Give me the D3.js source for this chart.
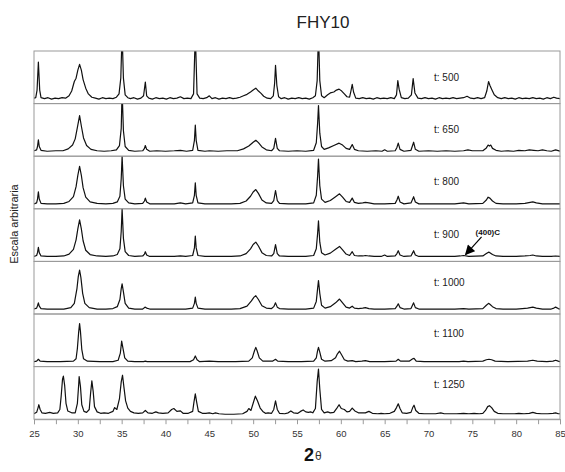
<!DOCTYPE html>
<html>
<head>
<meta charset="utf-8">
<script src="https://cdn.jsdelivr.net/npm/d3@7/dist/d3.min.js"></script>
<style>
  body { margin: 0; background: #fff; }
  svg { display: block; font-family: "Liberation Sans", Arial, sans-serif; }
</style>
</head>
<body>
<svg id="chart" width="565" height="472"></svg>
<script>
// ---- data ----
const panelLabels = ["t: 500", "t: 650", "t: 800", "t: 900", "t: 1000", "t: 1100", "t: 1250"];
const xTicks = [25, 27.5, 30, 32.5, 35, 37.5, 40, 42.5, 45, 47.5, 50, 52.5, 55, 57.5, 60, 62.5, 65, 67.5, 70, 72.5, 75, 77.5, 80, 82.5, 85];

const t500 = [[25,3],[25.2,4],[25.35,20],[25.5,79],[25.65,20],[25.8,4],[26.2,2],[26.6,4],[27.0,1],[27.4,3],[27.8,2],[28.2,4],[28.6,3],[29.0,8],[29.3,18],[29.6,38],[29.8,45],[30.0,62],[30.2,74],[30.4,62],[30.6,42],[30.9,24],[31.2,12],[31.6,5],[32.0,3],[32.4,1],[32.8,4],[33.2,2],[33.6,3],[34.0,2],[34.4,5],[34.7,12],[34.9,45],[35.05,140],[35.2,45],[35.4,10],[35.7,4],[36.0,2],[36.4,4],[36.8,1],[37.2,3],[37.5,8],[37.7,37],[37.85,8],[38.1,3],[38.5,1],[38.9,4],[39.3,2],[39.7,3],[40.1,1],[40.5,4],[40.9,2],[41.3,3],[41.7,6],[42.1,2],[42.5,3],[42.9,2],[43.2,12],[43.4,140],[43.6,12],[43.9,3],[44.3,2],[44.7,4],[45.0,8],[45.3,2],[45.7,4],[46.1,1],[46.5,3],[46.9,2],[47.3,4],[47.7,2],[48.1,3],[48.5,5],[48.9,8],[49.3,11],[49.7,16],[50.0,20],[50.3,24],[50.6,18],[50.9,13],[51.2,7],[51.6,3],[52.0,2],[52.3,8],[52.45,35],[52.55,72],[52.7,30],[52.9,6],[53.2,2],[53.6,4],[54.0,1],[54.4,3],[54.8,2],[55.2,4],[55.6,2],[56.0,3],[56.4,1],[56.8,4],[57.1,8],[57.3,40],[57.45,140],[57.6,40],[57.8,8],[58.1,4],[58.5,10],[58.8,14],[59.2,16],[59.5,20],[59.8,22],[60.1,18],[60.4,12],[60.7,6],[61.0,5],[61.15,18],[61.3,32],[61.45,16],[61.7,3],[62.1,2],[62.5,4],[62.9,2],[63.3,3],[63.7,1],[64.1,4],[64.5,2],[64.9,3],[65.3,2],[65.7,4],[66.1,2],[66.35,10],[66.5,40],[66.65,22],[66.9,4],[67.3,2],[67.7,3],[68.05,10],[68.25,44],[68.45,14],[68.8,3],[69.2,2],[69.6,4],[70.0,2],[70.4,3],[70.8,1],[71.2,4],[71.6,2],[72.0,3],[72.4,2],[72.8,4],[73.2,2],[73.6,3],[74.0,4],[74.4,7],[74.8,3],[75.2,2],[75.6,4],[76.0,2],[76.4,4],[76.65,18],[76.85,38],[77.0,30],[77.2,22],[77.5,10],[77.9,4],[78.3,2],[78.7,4],[79.1,2],[79.5,3],[79.9,1],[80.3,4],[80.7,2],[81.1,3],[81.5,2],[81.9,4],[82.3,2],[82.7,3],[83.1,1],[83.5,4],[83.9,2],[84.3,5],[84.6,3],[85,2]];

const t650 = [[25,3],[25.3,5],[25.4,12],[25.5,26],[25.6,12],[25.8,4],[26.5,2],[27.5,3],[28.3,3],[28.9,7],[29.4,15],[29.7,28],[29.95,52],[30.2,77],[30.4,55],[30.65,30],[31.0,14],[31.5,6],[32.2,3],[33.0,2],[33.8,3],[34.4,5],[34.75,14],[34.95,50],[35.05,130],[35.2,45],[35.4,12],[35.8,4],[36.5,2],[37.4,3],[37.6,8],[37.7,14],[37.85,6],[38.2,2],[39.0,3],[40.0,2],[41.0,3],[41.7,4],[42.4,2],[43.1,4],[43.3,25],[43.4,57],[43.5,25],[43.7,4],[44.5,2],[45.0,3],[46,2],[47,3],[48.2,3],[48.9,7],[49.5,13],[50.0,21],[50.3,25],[50.6,20],[51.0,11],[51.5,5],[52.1,3],[52.35,8],[52.55,29],[52.75,8],[53.0,3],[54,2],[55,3],[56,2],[56.9,4],[57.2,20],[57.35,60],[57.45,98],[57.6,40],[57.8,12],[58.1,6],[58.6,9],[59.2,14],[59.8,19],[60.2,15],[60.6,8],[61.0,6],[61.3,16],[61.55,6],[62.0,3],[63,2],[64,3],[64.7,2],[65.0,5],[65.3,2],[66.2,3],[66.4,10],[66.55,19],[66.75,6],[67.2,2],[68.0,4],[68.2,15],[68.3,21],[68.5,6],[68.9,2],[70,3],[71,2],[72,3],[73,2],[74.0,3],[74.5,5],[75,3],[76.2,3],[76.6,9],[76.8,15],[76.95,13],[77.1,15],[77.3,8],[77.7,4],[78.3,2],[79,3],[79.7,2],[80.3,4],[81.0,3],[81.5,5],[82.0,4],[82.5,3],[83.0,5],[83.5,3],[84.0,2],[84.5,5],[85,2]];

const t800 = [[25,2],[25.3,4],[25.4,12],[25.5,27],[25.6,12],[25.8,3],[26.5,2],[27.5,2],[28.4,3],[29.0,7],[29.5,17],[29.8,38],[30.0,62],[30.2,81],[30.4,62],[30.6,36],[30.9,16],[31.4,6],[32.2,3],[33.2,2],[34.0,3],[34.5,6],[34.8,18],[34.95,55],[35.05,102],[35.2,40],[35.4,12],[35.8,4],[36.5,2],[37.4,3],[37.6,8],[37.7,14],[37.85,6],[38.2,2],[39.5,2],[41.0,2],[41.7,4],[42.3,2],[43.1,4],[43.3,20],[43.4,46],[43.5,20],[43.7,4],[44.5,2],[46,2],[47.5,2],[48.5,3],[49.2,8],[49.7,18],[50.0,27],[50.3,32],[50.6,24],[51.0,10],[51.5,4],[52.1,3],[52.35,9],[52.55,30],[52.75,9],[53.0,3],[54,2],[55,2],[56,2],[56.9,4],[57.2,20],[57.35,60],[57.45,96],[57.6,40],[57.8,12],[58.2,5],[58.8,9],[59.4,17],[59.85,23],[60.2,16],[60.6,7],[61.0,5],[61.3,14],[61.55,5],[62.0,3],[62.5,4],[62.8,5],[63.2,4],[63.8,2],[65,2],[66.2,3],[66.4,10],[66.55,18],[66.75,6],[67.2,2],[68.0,4],[68.2,12],[68.3,17],[68.5,6],[68.9,2],[70,2],[71.5,2],[73.0,2],[74.0,4],[74.6,2],[76.2,3],[76.6,10],[76.8,16],[77.0,14],[77.3,8],[77.7,3],[78.5,2],[80,2],[81.0,3],[81.6,5],[81.9,6],[82.3,4],[83.0,2],[84,2],[85,2]];

const t900 = [[25,2],[25.3,4],[25.4,10],[25.5,21],[25.6,10],[25.8,3],[26.5,2],[27.5,2],[28.4,3],[29.0,7],[29.5,17],[29.8,37],[30.0,60],[30.2,79],[30.4,60],[30.6,35],[30.9,15],[31.4,6],[32.2,3],[33.2,2],[34.0,3],[34.5,6],[34.8,18],[34.95,55],[35.05,102],[35.2,40],[35.4,12],[35.8,4],[36.5,2],[37.4,3],[37.6,7],[37.7,12],[37.85,5],[38.2,2],[39.5,2],[41.0,2],[41.7,3],[42.3,2],[43.1,4],[43.3,20],[43.4,45],[43.5,20],[43.7,4],[44.5,2],[46,2],[47.5,2],[48.5,3],[49.2,8],[49.7,18],[50.0,27],[50.3,32],[50.6,24],[51.0,10],[51.5,4],[52.1,3],[52.35,8],[52.55,27],[52.75,8],[53.0,3],[54,2],[55,2],[56,2],[56.9,4],[57.2,18],[57.35,50],[57.45,77],[57.6,32],[57.8,10],[58.2,5],[58.8,9],[59.4,17],[59.85,23],[60.2,16],[60.6,7],[61.0,4],[61.3,12],[61.55,4],[62.0,3],[62.5,3],[62.8,4],[63.2,3],[63.8,2],[64.6,2],[65.0,5],[65.3,2],[66.2,3],[66.4,8],[66.55,14],[66.75,5],[67.2,2],[68.0,3],[68.2,10],[68.3,14],[68.5,5],[68.9,2],[70,2],[71.5,2],[73.0,2],[73.6,3],[74.0,4],[74.6,2],[76.2,3],[76.6,8],[76.85,11],[77.0,10],[77.3,6],[77.7,3],[78.5,2],[80,2],[81.0,3],[81.6,4],[81.9,5],[82.3,3],[83.0,2],[84,2],[84.5,3],[85,2]];

const t1000 = [[25,2],[25.3,4],[25.4,9],[25.5,15],[25.6,8],[25.8,3],[26.5,2],[27.5,2],[28.4,2],[29.2,5],[29.6,14],[29.9,45],[30.05,70],[30.2,84],[30.35,68],[30.55,35],[30.8,14],[31.3,5],[32.2,2],[33.2,2],[34.0,3],[34.5,7],[34.8,22],[34.95,45],[35.05,55],[35.2,38],[35.4,14],[35.8,4],[36.5,2],[37.4,2],[37.6,5],[37.7,6],[37.85,4],[38.2,2],[39.5,2],[41.0,2],[42.3,2],[43.1,4],[43.3,14],[43.4,27],[43.5,14],[43.7,4],[44.5,2],[46,2],[47.5,2],[48.5,3],[49.3,8],[49.8,19],[50.1,27],[50.3,30],[50.6,22],[51.0,9],[51.5,4],[52.1,3],[52.35,7],[52.55,15],[52.75,6],[53.0,3],[54,2],[55,2],[56,2],[56.9,4],[57.2,18],[57.35,45],[57.45,62],[57.6,35],[57.8,10],[58.2,4],[58.8,7],[59.4,15],[59.85,23],[60.2,15],[60.6,6],[61.0,4],[61.3,8],[61.55,4],[62.0,3],[62.5,4],[62.8,5],[63.2,3],[63.8,2],[65,2],[66.2,3],[66.4,8],[66.55,13],[66.75,5],[67.2,2],[68.0,3],[68.2,11],[68.3,15],[68.5,5],[68.9,2],[70,2],[71.5,2],[73.0,2],[74.0,3],[74.6,2],[76.2,3],[76.6,10],[76.85,14],[77.0,12],[77.3,7],[77.7,3],[78.5,2],[80,2],[80.7,3],[81.3,4],[81.9,6],[82.3,4],[83.0,2],[84.0,2],[84.3,4],[84.5,6],[84.8,3],[85,2]];

const t1100 = [[25,2],[25.3,3],[25.5,7],[25.7,3],[26.5,2],[28.0,2],[29.5,3],[29.8,8],[29.95,30],[30.1,65],[30.2,82],[30.3,65],[30.45,28],[30.65,8],[31.1,3],[32.5,2],[34.0,2],[34.6,5],[34.85,20],[35.0,45],[35.15,30],[35.35,10],[35.7,3],[36.5,2],[37.5,2],[37.7,3],[37.9,2],[39,2],[41,2],[42.8,2],[43.2,6],[43.4,14],[43.6,6],[43.9,2],[45.0,3],[46,2],[48,2],[49.5,3],[49.9,10],[50.15,25],[50.3,32],[50.45,25],[50.7,10],[51.1,3],[52.2,3],[52.55,7],[52.8,3],[54,2],[55.5,2],[56.9,3],[57.2,10],[57.35,25],[57.45,32],[57.6,22],[57.8,7],[58.2,3],[58.9,4],[59.4,10],[59.6,18],[59.85,24],[60.1,16],[60.4,6],[60.8,3],[61.3,4],[61.7,2],[62.4,3],[62.8,4],[63.3,2],[65,2],[66.3,3],[66.55,7],[66.8,3],[67.8,3],[68.2,8],[68.35,9],[68.6,3],[69.5,2],[72,2],[73.5,2],[74.0,3],[74.5,2],[76.2,3],[76.6,6],[76.9,7],[77.2,6],[77.6,3],[79,2],[81.3,3],[81.9,5],[82.4,3],[83.5,2],[84.2,3],[84.5,5],[84.8,3],[85,2]];

const t1250 = [[25,3],[25.3,6],[25.45,15],[25.55,22],[25.7,12],[25.9,5],[26.3,4],[26.8,6],[27.2,4],[27.7,5],[27.95,12],[28.1,40],[28.25,75],[28.35,82],[28.5,62],[28.65,25],[28.85,9],[29.3,5],[29.7,5],[29.95,25],[30.1,65],[30.15,81],[30.3,60],[30.45,22],[30.7,8],[31.0,6],[31.3,12],[31.45,45],[31.6,72],[31.75,50],[31.9,18],[32.2,7],[32.6,4],[33.0,5],[33.5,4],[34.0,8],[34.2,16],[34.45,12],[34.75,35],[34.95,70],[35.1,84],[35.25,60],[35.45,30],[35.7,15],[36.0,8],[36.4,5],[36.9,4],[37.4,5],[37.7,10],[38.0,5],[38.5,4],[38.9,7],[39.2,5],[39.7,4],[40.3,5],[40.7,12],[40.95,14],[41.3,8],[41.7,9],[42.0,4],[42.6,4],[43.1,8],[43.25,28],[43.4,45],[43.55,28],[43.75,8],[44.2,4],[44.6,4],[45.0,5],[45.4,3],[45.7,5],[46.1,3],[46.8,2],[47.8,2],[48.8,3],[49.3,8],[49.5,14],[49.75,10],[50.0,25],[50.25,40],[50.5,30],[50.8,15],[51.1,8],[51.4,4],[51.7,5],[52.1,4],[52.35,12],[52.55,30],[52.75,12],[53.0,4],[53.6,3],[54.0,5],[54.3,9],[54.6,5],[55.1,4],[55.4,8],[55.7,11],[56.0,7],[56.3,6],[56.55,7],[56.8,5],[57.1,14],[57.3,70],[57.45,97],[57.6,55],[57.8,12],[58.1,5],[58.5,7],[58.8,5],[59.2,6],[59.55,15],[59.8,22],[60.05,14],[60.4,12],[60.7,7],[61.0,8],[61.3,15],[61.6,9],[62.0,5],[62.4,5],[62.8,5],[63.2,8],[63.6,4],[64.2,3],[64.6,4],[65.0,3],[65.6,4],[66.1,8],[66.35,16],[66.55,24],[66.75,14],[67.0,5],[67.5,4],[68.0,6],[68.2,16],[68.35,21],[68.55,10],[68.9,4],[69.5,3],[70.2,3],[70.8,3],[71.4,5],[71.8,3],[72.5,3],[73.2,3],[74.0,4],[74.6,3],[75.2,4],[75.8,3],[76.2,4],[76.5,10],[76.75,18],[76.95,20],[77.2,16],[77.5,8],[77.9,4],[78.5,3],[79.2,3],[79.8,3],[80.3,4],[80.9,3],[81.5,4],[81.9,6],[82.3,4],[82.9,3],[83.6,3],[84.2,4],[84.5,5],[84.8,3],[85,3]];

const series = [t500, t650, t800, t900, t1000, t1100, t1250];
const annotation = { text: "(400)C", x: 74.0 };

// ---- layout ----
const svg = d3.select("#chart");
const left = 34, right = 560, top0 = 51, panelH = 52.6;
const labelOffsets = [30, 29, 29, 29, 25, 23, 21];
const x = d3.scaleLinear().domain([25, 85]).range([left, right]);

// title
svg.append("text").attr("x", 323).attr("y", 28).attr("text-anchor", "middle")
  .attr("font-size", 17).attr("fill", "#222").text("FHY10");

// y label
svg.append("text").attr("transform", "translate(18,224) rotate(-90)")
  .attr("text-anchor", "middle").attr("font-size", 11).attr("fill", "#222")
  .text("Escala arbitraria");

const defs = svg.append("defs");
defs.append("marker").attr("id", "arrow").attr("viewBox", "0 0 10 10")
  .attr("refX", 9).attr("refY", 5).attr("markerWidth", 11).attr("markerHeight", 10)
  .attr("markerUnits", "userSpaceOnUse").attr("orient", "auto")
  .append("path").attr("d", "M0,0 L10,5 L0,10 z").attr("fill", "#000");

series.forEach((data, i) => {
  const top = top0 + i * panelH, bottom = top + panelH;
  const y = d3.scaleLinear().domain([0, 100]).range([bottom - 4, top + 1]);
  defs.append("clipPath").attr("id", "clip" + i)
    .append("rect").attr("x", left).attr("y", top).attr("width", right - left).attr("height", panelH);
  const line = d3.line().x(d => x(d[0])).y(d => y(d[1]));
  svg.append("path").datum(data).attr("d", line).attr("clip-path", `url(#clip${i})`)
    .attr("fill", "none").attr("stroke", "#111").attr("stroke-width", 1.2)
    .attr("stroke-linejoin", "round");
  svg.append("rect").attr("x", left).attr("y", top).attr("width", right - left).attr("height", panelH)
    .attr("fill", "none").attr("stroke", "#9a9a9a").attr("stroke-width", 1);
  svg.append("text").attr("x", 434).attr("y", top + labelOffsets[i])
    .attr("font-size", 10).attr("fill", "#222").text(panelLabels[i]);
  if (i === 3) {
    const ax = x(annotation.x);
    svg.append("text").attr("x", ax + 12).attr("y", top + 26)
      .attr("font-size", 8).attr("font-weight", "bold").attr("fill", "#111").text(annotation.text);
    svg.append("line").attr("x1", ax + 18).attr("y1", top + 28)
      .attr("x2", ax + 2).attr("y2", y(6))
      .attr("stroke", "#000").attr("stroke-width", 1.2).attr("marker-end", "url(#arrow)");
  }
});

// bottom axis
const axisY = top0 + series.length * panelH;
const axis = d3.axisBottom(x).tickValues(xTicks).tickSize(5)
  .tickFormat(d => (d % 5 === 0 ? d : ""));
const ag = svg.append("g").attr("transform", `translate(0,${axisY})`).call(axis);
ag.select(".domain").attr("stroke", "#9a9a9a");
ag.selectAll(".tick line").attr("stroke", "#9a9a9a");
ag.selectAll(".tick text").attr("font-size", 9.5).attr("fill", "#333")
  .attr("font-family", "Liberation Sans, Arial, sans-serif").attr("dy", "1.05em");

// x label 2θ
svg.append("text").attr("x", 304).attr("y", 461).attr("font-size", 18).attr("font-weight", "bold")
  .attr("fill", "#111").text("2");
svg.append("text").attr("x", 315).attr("y", 460).attr("font-size", 12)
  .attr("fill", "#333").text("θ");
</script>
</body>
</html>
